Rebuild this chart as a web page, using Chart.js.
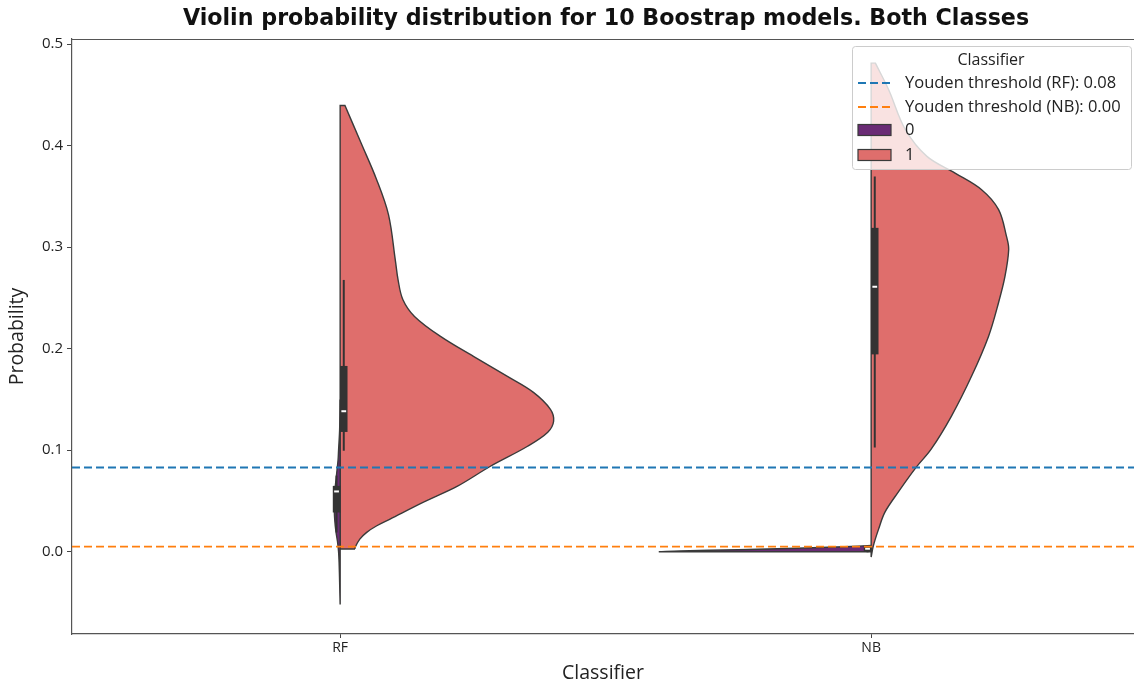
<!DOCTYPE html>
<html>
<head>
<meta charset="utf-8">
<script src="https://cdn.jsdelivr.net/npm/chart.js@4"></script>
<style>
  html, body { margin: 0; padding: 0; background: #fff; }
  #wrap { width: 1134px; height: 683px; }
</style>
</head>
<body>
<div id="wrap"><canvas id="chart" width="1134" height="683"></canvas></div>
<script>
// categories and ticks
const categories = ["RF", "NB"];
const yTicks = [0, 0.1, 0.2, 0.3, 0.4, 0.5];

// half-violin profiles: probability value -> half width (in category units)
const rf0Values = [-0.052, -0.03, -0.01, 0.0, 0.01, 0.02, 0.03, 0.04, 0.05, 0.06, 0.07, 0.08, 0.09, 0.10, 0.12, 0.15];
const rf0Widths = [0.0, 0.001, 0.002, 0.003, 0.005, 0.008, 0.010, 0.011, 0.011, 0.010, 0.008, 0.006, 0.004, 0.003, 0.001, 0.0];

const rf1Values = [0.0027, 0.0043, 0.0125, 0.0191, 0.0256, 0.0322, 0.0489, 0.0646, 0.0842, 0.1039, 0.1177, 0.1285, 0.1403, 0.1570, 0.1727, 0.1924, 0.2121, 0.2318, 0.2485, 0.2680, 0.2868, 0.3320, 0.3674, 0.4018, 0.4395];
const rf1Widths = [0.028, 0.028, 0.037, 0.050, 0.069, 0.094, 0.157, 0.221, 0.283, 0.353, 0.391, 0.402, 0.396, 0.364, 0.315, 0.251, 0.189, 0.140, 0.118, 0.109, 0.104, 0.091, 0.068, 0.040, 0.009];

const nb0Values = [0.0, 0.0008, 0.002, 0.0035, 0.005, 0.0062];
const nb0Widths = [0.40, 0.36, 0.25, 0.14, 0.05, 0.0];

const nb1Values = [-0.0052, 0.0056, 0.0223, 0.0390, 0.0587, 0.0833, 0.1010, 0.1334, 0.1728, 0.2121, 0.2455, 0.2711, 0.2977, 0.3104, 0.3370, 0.3566, 0.3730, 0.3894, 0.4162, 0.4550, 0.4812];
const nb1Widths = [0.0, 0.004, 0.014, 0.026, 0.051, 0.085, 0.113, 0.151, 0.189, 0.221, 0.240, 0.252, 0.259, 0.255, 0.240, 0.208, 0.158, 0.105, 0.064, 0.033, 0.008];

// inner box stats, order: RF-0, RF-1, NB-0, NB-1
const boxQ1 = [0.0387, 0.1180, 0.0005, 0.1944];
const boxMedian = [0.0594, 0.1384, 0.0030, 0.2610];
const boxQ3 = [0.0649, 0.1830, 0.0050, 0.3190];
const whiskerLow = [0.019, 0.0995, -0.0005, 0.1027];
const whiskerHigh = [0.075, 0.2677, 0.0060, 0.3697];

// Youden thresholds
const thresholdLabels = ["Youden threshold (RF): 0.08", "Youden threshold (NB): 0.00"];
const thresholdValues = [0.083, 0.005];

const classLabels = ["0", "1"];
const classColors = ["#6a2b75", "#df6e6c"];
const lineColors = ["#1f77b4", "#ff7f0e"];
const edgeColor = "#3a3a3a";
const uiFont = "'Open Sans', 'Noto Sans', sans-serif";

// outline of one half: smooth edge, then straight cap / centre line / base
// (corner points repeated so the spline stays sharp there)
function halfViolin(center, side, values, widths) {
  const last = values.length - 1;
  const pts = values.map((v, i) => ({ x: center + side * widths[i], y: v }));
  pts.push({ x: center + side * widths[last], y: values[last] });
  pts.push({ x: center, y: values[last] }, { x: center, y: values[last] });
  pts.push({ x: center, y: values[0] }, { x: center, y: values[0] });
  pts.push({ x: center + side * widths[0], y: values[0] });
  return pts;
}

const datasets = [];
const violins = [
  [0, -1, rf0Values, rf0Widths, 0],
  [0, 1, rf1Values, rf1Widths, 1],
  [1, -1, nb0Values, nb0Widths, 0],
  [1, 1, nb1Values, nb1Widths, 1],
];
violins.forEach(([c, side, vals, w, cls]) => {
  datasets.push({
    data: halfViolin(c, side, vals, w),
    borderColor: edgeColor,
    borderWidth: 1.4,
    backgroundColor: classColors[cls],
    fill: "shape",
    pointRadius: 0,
    tension: 0.35,
    order: 4,
  });
});

// inner boxes, offset slightly to each side of the split
const boxOffset = 0.0068;
boxQ1.forEach((q1, i) => {
  const c = Math.floor(i / 2);
  const x = c + (i % 2 === 0 ? -boxOffset : boxOffset);
  datasets.push({
    data: [{ x, y: whiskerLow[i] }, { x, y: whiskerHigh[i] }],
    borderColor: "#333",
    borderWidth: 2,
    pointRadius: 0,
    borderCapStyle: "butt",
    order: 3,
  });
  datasets.push({
    data: [{ x, y: q1 }, { x, y: boxQ3[i] }],
    borderColor: "#333",
    borderWidth: 7.5,
    pointRadius: 0,
    borderCapStyle: "butt",
    order: 2,
  });
  datasets.push({
    data: [{ x: x - 0.0045, y: boxMedian[i] }, { x: x + 0.0045, y: boxMedian[i] }],
    borderColor: "#ffffff",
    borderWidth: 2,
    pointRadius: 0,
    borderCapStyle: "butt",
    order: 1,
  });
});

thresholdValues.forEach((t, i) => {
  datasets.push({
    data: [{ x: -0.505, y: t }, { x: 1.495, y: t }],
    borderColor: lineColors[i],
    borderWidth: 1.8,
    borderDash: [8, 4],
    pointRadius: 0,
    order: 0,
  });
});

const extras = {
  id: "extras",
  afterDraw(chart) {
    const { ctx, chartArea } = chart;
    ctx.save();
    // top spine
    ctx.strokeStyle = "#555";
    ctx.lineWidth = 1.2;
    ctx.beginPath();
    ctx.moveTo(chartArea.left, chartArea.top + 0.5);
    ctx.lineTo(chartArea.right, chartArea.top + 0.5);
    ctx.stroke();

    // title
    ctx.fillStyle = "#111";
    ctx.font = "bold 22.2px 'DejaVu Sans'";
    ctx.textAlign = "center";
    ctx.textBaseline = "middle";
    ctx.fillText("Violin probability distribution for 10 Boostrap models. Both Classes",
      (chartArea.left + chartArea.right) / 2 + 3, 19);

    // legend
    const lx = 852.5, ly = 46.5, lw = 279, lh = 123;
    ctx.fillStyle = "rgba(255,255,255,0.8)";
    ctx.strokeStyle = "#cccccc";
    ctx.lineWidth = 1;
    ctx.beginPath();
    ctx.roundRect(lx, ly, lw, lh, 3);
    ctx.fill();
    ctx.stroke();

    ctx.fillStyle = "#222";
    ctx.font = "16px " + uiFont;
    ctx.textAlign = "center";
    ctx.fillText("Classifier", 991, 60);

    ctx.textAlign = "left";
    ctx.font = "16.5px " + uiFont;
    const rows = [83, 107, 130, 155];
    thresholdLabels.forEach((lab, i) => {
      ctx.strokeStyle = lineColors[i];
      ctx.lineWidth = 1.8;
      ctx.setLineDash([8, 4]);
      ctx.beginPath();
      ctx.moveTo(858, rows[i]);
      ctx.lineTo(891, rows[i]);
      ctx.stroke();
      ctx.setLineDash([]);
      ctx.fillStyle = "#222";
      ctx.fillText(lab, 905, rows[i]);
    });
    classLabels.forEach((lab, i) => {
      const y = rows[i + 2];
      ctx.fillStyle = classColors[i];
      ctx.fillRect(858, y - 5.5, 33, 11);
      ctx.strokeStyle = edgeColor;
      ctx.lineWidth = 1.2;
      ctx.strokeRect(858, y - 5.5, 33, 11);
      ctx.fillStyle = "#222";
      ctx.fillText(lab, 905, y);
    });
    ctx.restore();
  },
};

new Chart(document.getElementById("chart"), {
  type: "line",
  data: { datasets },
  plugins: [extras],
  options: {
    responsive: false,
    animation: false,
    events: [],
    layout: { padding: { top: 39, right: 0, left: 0, bottom: 0 } },
    plugins: {
      legend: { display: false },
      title: { display: false },
      tooltip: { enabled: false },
    },
    scales: {
      x: {
        type: "linear",
        min: -0.505,
        max: 1.495,
        afterBuildTicks: (s) => { s.ticks = categories.map((_, i) => ({ value: i })); },
        afterFit: (s) => { s.height = 49; },
        ticks: {
          callback: (v) => categories[v],
          color: "#222",
          font: { family: uiFont, size: 14 },
          padding: 2,
          maxRotation: 0,
        },
        grid: { display: true, drawOnChartArea: false, tickLength: 4, tickColor: "#444" },
        border: { display: true, color: "#555", width: 1.2 },
        title: {
          display: true,
          text: "Classifier",
          color: "#222",
          font: { family: uiFont, size: 19.5 },
          padding: { top: 0, bottom: -2 },
        },
      },
      y: {
        min: -0.081,
        max: 0.505,
        afterBuildTicks: (s) => { s.ticks = yTicks.map((v) => ({ value: v })); },
        afterFit: (s) => { s.width = 72; },
        ticks: {
          callback: (v) => v.toFixed(1),
          color: "#222",
          font: { family: uiFont, size: 15 },
          padding: 4,
        },
        grid: { display: true, drawOnChartArea: false, tickLength: 5, tickColor: "#444" },
        border: { display: true, color: "#555", width: 1.2 },
        title: {
          display: true,
          text: "Probability",
          color: "#222",
          font: { family: uiFont, size: 19.5 },
          padding: { top: 6, bottom: 0 },
        },
      },
    },
  },
});
</script>
</body>
</html>
